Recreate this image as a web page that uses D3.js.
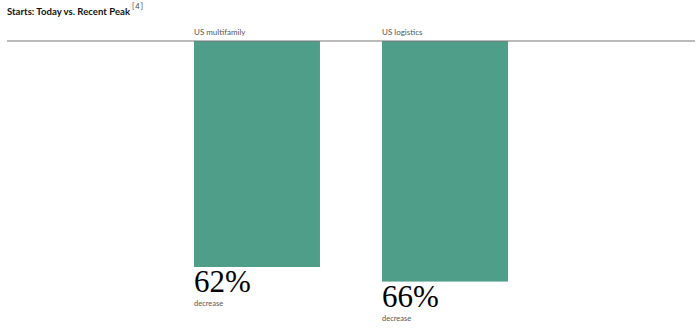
<!DOCTYPE html>
<html>
<head>
<meta charset="utf-8">
<script src="https://cdn.jsdelivr.net/npm/d3@7"></script>
<style>
  body { margin: 0; background: #fff; }
  svg { display: block; }
</style>
</head>
<body>
<div id="chart"></div>
<script>
// Data
var categories = ['US multifamily', 'US logistics']
var decreases = [62, 66]
var valueLabels = ['62%', '66%']
var subLabel = 'decrease'

var width = 700
var height = 332
var baseY = 41

var svg = d3.select('#chart')
  .append('svg')
  .attr('width', width)
  .attr('height', height)

// Scales
var xPositionScale = d3.scaleBand()
  .domain(categories)
  .range([194, 508])
  .paddingInner(0.33)
  .paddingOuter(0)

var yPositionScale = d3.scaleLinear()
  .domain([0, 62])
  .range([baseY, 267])

// Title
var title = svg.append('text')
  .attr('x', 7)
  .attr('y', 15)
  .attr('font-family', 'Lato, sans-serif')
  .attr('font-size', 9.6)
  .attr('font-weight', 'bold')
  .attr('fill', '#111')
  .text('Starts: Today vs. Recent Peak')

title.append('tspan')
  .attr('dx', 2)
  .attr('dy', -6)
  .attr('font-size', 7.5)
  .attr('font-weight', 'normal')
  .attr('letter-spacing', 1)
  .attr('fill', '#444')
  .text('[4]')

// Bars
svg.selectAll('.bar')
  .data(categories)
  .enter()
  .append('rect')
  .attr('class', 'bar')
  .attr('x', d => xPositionScale(d))
  .attr('y', yPositionScale(0))
  .attr('width', xPositionScale.bandwidth())
  .attr('height', (d, i) => yPositionScale(decreases[i]) - yPositionScale(0))
  .attr('fill', '#4f9e8a')

// Baseline
svg.append('line')
  .attr('x1', 7)
  .attr('x2', 695)
  .attr('y1', baseY)
  .attr('y2', baseY)
  .attr('stroke', '#777')
  .attr('stroke-width', 1)

// Category labels
svg.selectAll('.cat-label')
  .data(categories)
  .enter()
  .append('text')
  .attr('class', 'cat-label')
  .attr('x', d => xPositionScale(d))
  .attr('y', 35)
  .attr('font-family', 'Lato, sans-serif')
  .attr('font-size', 8)
  .attr('fill', '#555')
  .text(d => d)

// Big percentage labels
svg.selectAll('.value-label')
  .data(categories)
  .enter()
  .append('text')
  .attr('class', 'value-label')
  .attr('x', d => xPositionScale(d))
  .attr('y', (d, i) => yPositionScale(decreases[i]) + 25)
  .attr('font-family', '"Liberation Serif", serif')
  .attr('font-size', 31)
  .attr('fill', '#000')
  .text((d, i) => valueLabels[i])

// "decrease" labels
svg.selectAll('.sub-label')
  .data(categories)
  .enter()
  .append('text')
  .attr('class', 'sub-label')
  .attr('x', d => xPositionScale(d))
  .attr('y', (d, i) => yPositionScale(decreases[i]) + 39)
  .attr('font-family', 'Lato, sans-serif')
  .attr('font-size', 7.5)
  .attr('fill', '#555')
  .text(subLabel)
</script>
</body>
</html>
